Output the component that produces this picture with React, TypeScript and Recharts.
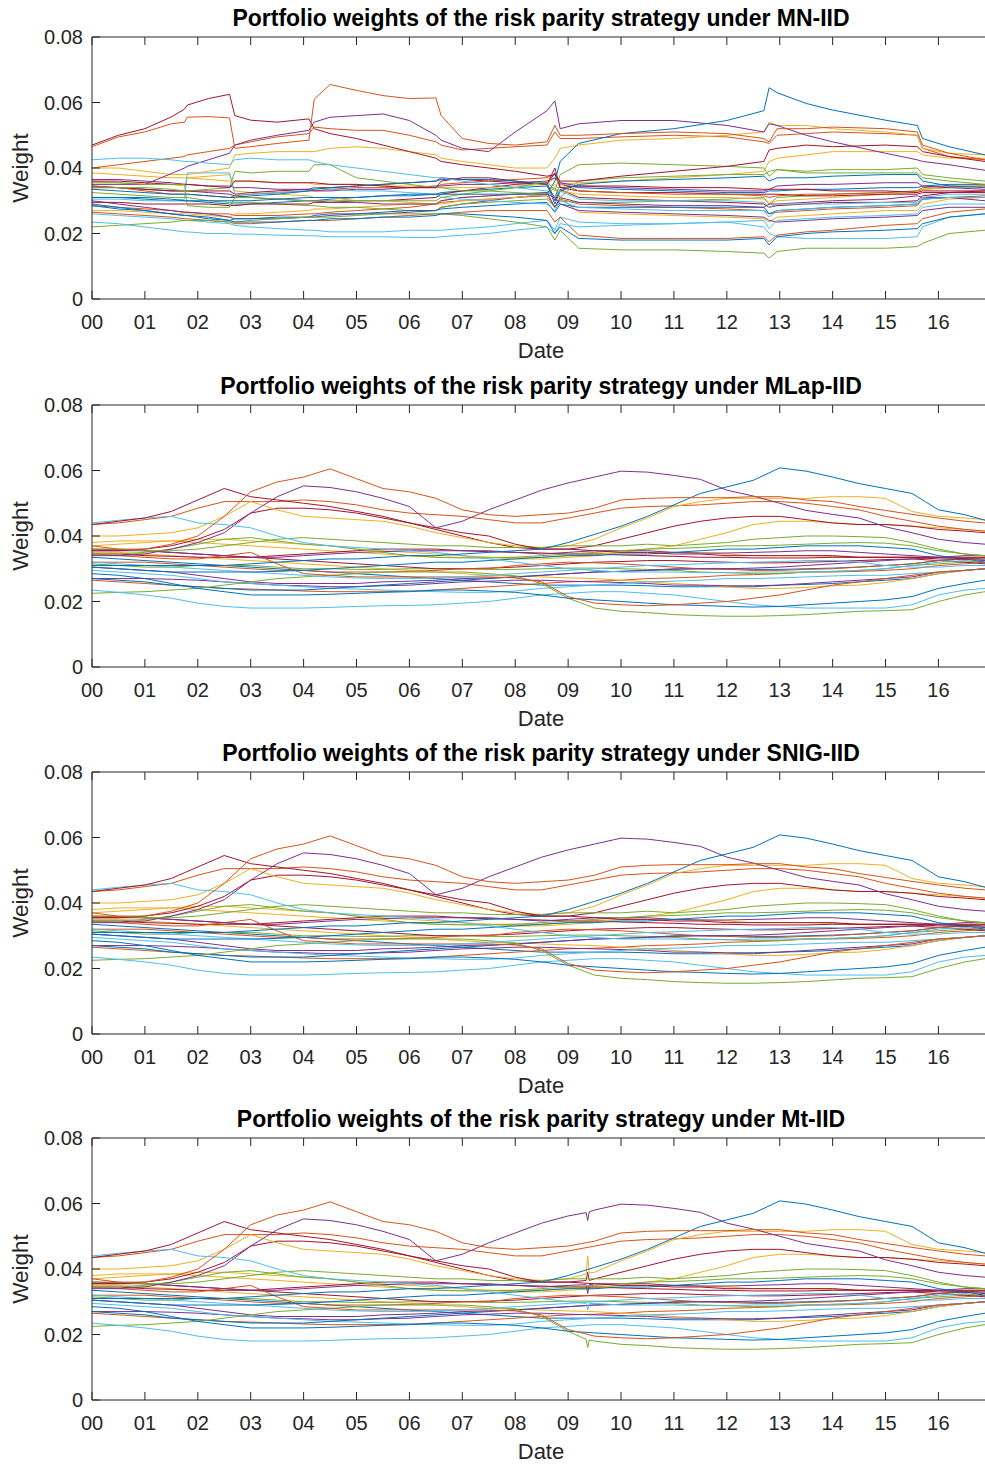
import React from "react";
import { LineChart, Line, XAxis, YAxis, ReferenceLine } from "recharts";

// ---------- axes ----------
const xTicks = [0, 1, 2, 3, 4, 5, 6, 7, 8, 9, 10, 11, 12, 13, 14, 15, 16];
const xTickLabels = ["00", "01", "02", "03", "04", "05", "06", "07", "08", "09", "10", "11", "12", "13", "14", "15", "16"];
const yTicks = [0, 0.02, 0.04, 0.06, 0.08];
const yTickLabels = ["0", "0.02", "0.04", "0.06", "0.08"];
const titles = [
  "Portfolio weights of the risk parity strategy under MN-IID",
  "Portfolio weights of the risk parity strategy under MLap-IID",
  "Portfolio weights of the risk parity strategy under SNIG-IID",
  "Portfolio weights of the risk parity strategy under Mt-IID",
];
const BLUE = "#0072BD", ORANGE = "#D95319", YELLOW = "#EDB120", PURPLE = "#7E2F8E", GREEN = "#77AC30", LBLUE = "#4DBEEE", DRED = "#A2142F";

// ---------- panel 1 (MN-IID): times in years since 2000 ----------
const t1 = [0, 0.5, 1, 1.5, 1.75, 1.8, 2.2, 2.6, 2.7, 3, 3.5, 4.1, 4.2, 4.5, 5, 5.5, 6, 6.5, 6.6, 7, 7.5, 8, 8.6, 8.75, 8.85, 9.2, 10, 11, 12, 12.7, 12.8, 12.95, 13.5, 14, 15, 15.6, 15.7, 16.2, 16.88];
const mnB5 = [.031,.031,.0305,.030,.030,.030,.0295,.029,.029,.029, .0295,.030,.030,.0305,.031,.0315,.0315,.032,.0325,.033, .0335,.034,.0345,.031,.035,.034,.0335,.033,.0325,.0325, .033,.033,.0335,.0335,.034,.034,.0345,.035,.035];
const mnO5 = [.0285,.028,.0275,.027,.0265,.0265,.026,.026,.0255,.0255, .0255,.026,.026,.0265,.027,.0275,.028,.029,.0295,.030, .0305,.031,.0315,.028,.0305,.029,.0285,.028,.0275,.027, .026,.0265,.027,.0275,.028,.0285,.0305,.031,.0315];
const mnY4 = [.027,.027,.0265,.026,.026,.026,.0255,.025,.026,.026, .0265,.027,.0275,.0275,.028,.0285,.029,.029,.030,.031, .0315,.032,.0325,.031,.031,.0265,.026,.0255,.025,.0245, .0235,.025,.0255,.026,.027,.027,.029,.0305,.031];
const mnP3 = [.030,.029,.028,.027,.0265,.0265,.026,.025,.0245,.0245, .0245,.025,.025,.0255,.026,.026,.0265,.027,.028,.029, .030,.031,.032,.031,.029,.027,.0265,.026,.0255,.025, .024,.0235,.024,.0245,.025,.0255,.027,.028,.028];
const mnG4 = [.0325,.032,.0315,.031,.031,.031,.030,.0295,.0295,.0295, .029,.0285,.0285,.028,.028,.0275,.027,.027,.028,.029, .0295,.030,.0305,.028,.030,.0295,.0295,.030,.0305,.031, .029,.031,.0315,.032,.0325,.033,.0335,.034,.0345];
const mnL3 = [.026,.0255,.025,.0245,.024,.024,.0235,.023,.0225,.022, .0215,.021,.021,.0205,.0205,.0205,.021,.021,.021,.0215, .022,.023,.024,.021,.025,.0235,.023,.023,.0235,.024, .0215,.024,.0245,.025,.0255,.026,.028,.029,.029];
const mnD4 = [.0295,.0295,.029,.029,.029,.029,.029,.0285,.0285,.029, .029,.029,.0295,.0295,.030,.030,.0305,.031,.032,.033, .034,.035,.0355,.030,.0335,.031,.0305,.030,.0295,.029, .028,.0285,.029,.0295,.0295,.030,.0315,.0325,.0325];
const mnB4 = [.0285,.0275,.027,.026,.0255,.0255,.025,.024,.0245,.0245, .025,.025,.0255,.026,.026,.0265,.027,.027,.0275,.028, .0285,.029,.0295,.0265,.029,.028,.028,.028,.028,.028, .026,.027,.0275,.028,.0285,.029,.0305,.031,.031];
const mnO2 = [.0265,.026,.0255,.025,.0245,.0245,.024,.0235,.023,.023, .0235,.024,.024,.024,.0245,.025,.0255,.026,.026,.0265, .027,.027,.027,.0235,.025,.0195,.0185,.0185,.0185,.019, .0175,.0195,.0205,.021,.0225,.023,.0245,.0265,.0275];
const mnY3 = [.036,.0355,.035,.035,.0345,.037,.0375,.038,.033,.0325, .032,.0315,.031,.031,.030,.030,.0295,.029,.029,.030, .0305,.031,.032,.035,.033,.032,.0315,.031,.031,.0305, .029,.030,.0305,.031,.032,.0325,.0335,.034,.0345];
const mnP2 = [.034,.034,.0335,.033,.033,.033,.0325,.032,.0315,.031, .0305,.030,.030,.0295,.0295,.029,.029,.029,.030,.031, .0315,.032,.0325,.028,.031,.0295,.029,.0285,.0285,.028, .029,.029,.0295,.030,.0305,.0315,.031,.031,.030];
const mnG1 = [.022,.0225,.023,.0235,.024,.024,.024,.0235,.0235,.024, .0245,.025,.025,.025,.0255,.026,.026,.026,.026,.0255, .0245,.0235,.022,.018,.021,.0155,.015,.015,.0145,.014, .0125,.0145,.0155,.0155,.0155,.016,.017,.020,.021];
const mnL1 = [.0235,.023,.022,.021,.0205,.0205,.020,.020,.0198,.0198, .0195,.0193,.0193,.019,.019,.019,.0188,.0188,.019,.0195, .020,.021,.022,.020,.023,.022,.0225,.023,.0235,.022, .020,.019,.0185,.0185,.0185,.019,.022,.025,.026];
const mnD3 = [.0345,.034,.0335,.033,.033,.033,.033,.033,.032,.0325, .033,.0335,.034,.034,.0345,.035,.0355,.036,.037,.0365, .036,.0355,.035,.0385,.034,.033,.0325,.0325,.032,.032, .032,.032,.0315,.0315,.032,.032,.0325,.0325,.033];
const mnB2 = [.029,.028,.027,.026,.0255,.0255,.0245,.024,.0235,.0235, .0235,.024,.024,.0245,.0245,.025,.025,.0255,.026,.026, .0255,.025,.024,.020,.022,.0185,.018,.018,.018,.0185, .0165,.019,.020,.0205,.021,.0215,.023,.025,.026];
const mnO4 = [.0345,.034,.033,.032,.032,.032,.0315,.031,.0315,.032, .0325,.033,.033,.0335,.034,.034,.034,.034,.035,.0355, .036,.0365,.037,.038,.0355,.033,.0325,.032,.032,.0315, .031,.0315,.032,.032,.0325,.033,.034,.0345,.0345];
const mnY2 = [.0385,.038,.0375,.037,.037,.037,.0365,.036,.036,.036, .0355,.0355,.035,.035,.035,.0345,.0345,.034,.034,.034, .034,.0345,.035,.037,.035,.0355,.036,.037,.038,.039, .042,.043,.044,.045,.045,.045,.044,.043,.043];
const mnP4 = [.0365,.0365,.036,.0355,.035,.035,.0345,.0345,.034,.034, .0335,.0335,.033,.033,.0335,.0335,.034,.0345,.0345,.035, .035,.0355,.036,.037,.0355,.0345,.034,.0335,.033,.033, .0335,.0345,.035,.035,.0355,.0355,.0345,.034,.0335];
const mnG3 = [.034,.034,.034,.0335,.033,.033,.0335,.034,.039,.0385, .039,.039,.041,.041,.037,.036,.035,.034,.034,.033, .033,.0325,.032,.034,.031,.036,.037,.0375,.038,.038, .039,.0395,.0385,.0385,.0385,.0385,.037,.036,.035];
const mnL4 = [.0305,.0305,.030,.030,.0305,.0385,.0385,.0385,.032,.032, .0325,.033,.034,.0335,.033,.033,.0325,.032,.031,.0305, .030,.0295,.029,.027,.030,.028,.0275,.027,.027,.027, .025,.027,.0275,.028,.0285,.029,.0305,.031,.031];
const mnD2 = [.036,.036,.0355,.035,.035,.035,.0345,.034,.036,.036, .0355,.0355,.0355,.035,.035,.0345,.034,.034,.036,.037, .037,.036,.035,.040,.034,.0345,.0345,.034,.034,.0335, .0335,.0335,.0335,.033,.033,.0325,.033,.033,.033];
const mnB3 = [.0335,.033,.0325,.032,.032,.032,.0315,.031,.031,.0315, .032,.033,.0335,.034,.0345,.035,.0355,.036,.0365,.0365, .0365,.036,.035,.029,.033,.035,.036,.0365,.037,.0375, .036,.037,.037,.0375,.038,.038,.036,.0345,.034];
const mnO3 = [.040,.041,.042,.043,.0435,.044,.045,.046,.047,.048, .0495,.0505,.0525,.052,.0515,.0515,.050,.048,.047,.0455, .046,.0465,.047,.051,.049,.049,.0495,.050,.0495,.048, .0475,.050,.0505,.051,.0505,.050,.046,.0435,.0425];
const mnY1 = [.040,.040,.039,.038,.038,.038,.039,.040,.044,.0445, .045,.045,.045,.046,.0465,.046,.045,.044,.043,.042, .041,.040,.040,.043,.046,.047,.0485,.049,.050,.051, .054,.053,.053,.052,.051,.050,.046,.0445,.044];
const mnP1 = [.035,.035,.035,.0383,.040,.0405,.0425,.0445,.047,.0485, .050,.0515,.054,.0555,.056,.0565,.0545,.050,.0485,.046, .045,.051,.0575,.0605,.052,.0535,.0545,.0545,.053,.051, .0535,.053,.050,.048,.0445,.0425,.042,.041,.0393];
const mnG2 = [.0355,.0355,.035,.035,.035,.0285,.028,.028,.031,.031, .0305,.030,.030,.030,.030,.030,.030,.030,.031,.032, .033,.034,.036,.033,.038,.041,.0415,.041,.0405,.040, .0375,.0395,.039,.0395,.0395,.040,.038,.037,.036];
const mnL2 = [.0425,.043,.043,.0425,.042,.042,.0415,.041,.0425,.043, .0425,.0425,.042,.041,.040,.039,.038,.037,.037,.036, .035,.034,.033,.031,.033,.0305,.030,.030,.030,.0295, .028,.029,.029,.029,.0295,.0295,.031,.032,.032];
const mnD1 = [.047,.050,.052,.0556,.058,.0592,.0612,.0625,.056,.0546, .054,.055,.052,.0505,.049,.047,.045,.043,.042,.041, .040,.039,.0375,.038,.036,.036,.0375,.039,.0405,.042, .0455,.046,.047,.0465,.047,.0465,.045,.0435,.042];
const mnB1 = [.031,.031,.031,.0305,.030,.030,.030,.030,.030,.030, .0305,.031,.031,.031,.031,.0315,.032,.032,.032,.032, .032,.032,.032,.036,.042,.0475,.0505,.052,.0545,.0575, .0645,.063,.0597,.0577,.0546,.053,.049,.0465,.044];
const mnO1 = [.0465,.0495,.051,.0535,.054,.0555,.0557,.0553,.046,.0465, .0475,.0485,.061,.0655,.0637,.0621,.0612,.0614,.056,.049, .0475,.047,.048,.053,.050,.050,.0505,.051,.0505,.049, .048,.052,.052,.0525,.052,.051,.047,.0445,.0425];

// ---------- panels 2-4 (smooth models): half-year grid ----------
const t2 = [0, 0.5, 1, 1.5, 2, 2.5, 3, 3.5, 4, 4.5, 5, 5.5, 6, 6.5, 7, 7.5, 8, 8.5, 9, 9.5, 10, 10.5, 11, 11.5, 12, 12.5, 13, 13.5, 14, 14.5, 15, 15.5, 16, 16.5, 16.88];
const smBb5 = [.0335,.033,.0325,.032,.0315,.031,.0305,.030,.0295,.029, .0285,.028,.0275,.027,.0265,.026,.0255,.025,.025,.025, .025,.0248,.0245,.0245,.0245,.0245,.025,.0252,.0255,.026, .0265,.027,.0285,.0295,.030];
const smOb5 = [.0265,.026,.0255,.025,.0245,.024,.0238,.0235,.0232,.023, .023,.023,.0232,.0235,.024,.0245,.025,.0255,.026,.0262, .0265,.027,.0272,.0275,.028,.0282,.0285,.029,.029,.0292, .0295,.030,.031,.0315,.032];
const smYb3 = [.035,.035,.0345,.034,.0335,.033,.0325,.032,.0315,.031, .0305,.030,.0295,.029,.0285,.028,.0278,.0275,.0272,.027, .0265,.026,.0255,.025,.0245,.024,.024,.0243,.0248,.025, .0258,.027,.0285,.0295,.030];
const smPb4 = [.027,.027,.027,.0268,.0265,.026,.0255,.025,.0248,.0245, .0245,.0248,.025,.0255,.026,.0262,.0265,.0265,.0262,.026, .0258,.0255,.025,.025,.0248,.0248,.025,.0255,.026,.0265, .027,.0275,.029,.0295,.030];
const smGb4 = [.0315,.031,.0305,.0305,.031,.031,.031,.0305,.030,.030, .0298,.0298,.030,.030,.030,.0298,.0298,.030,.0302,.0302, .030,.0298,.0295,.029,.0288,.0285,.0285,.029,.0292,.0295, .030,.031,.0315,.032,.0325];
const smLb3 = [.0295,.029,.0285,.028,.027,.026,.0255,.025,.0245,.024, .0238,.0235,.0232,.023,.0228,.0228,.0232,.024,.0245,.025, .0255,.026,.0262,.0265,.027,.027,.0272,.0275,.0278,.028, .028,.0285,.029,.0295,.030];
const smDb4 = [.036,.0358,.0355,.035,.0345,.034,.0335,.033,.0325,.032, .0315,.031,.0305,.030,.030,.0302,.0305,.031,.0315,.032, .0322,.0325,.0325,.0322,.032,.0318,.0318,.032,.0322,.0325, .0328,.033,.0325,.032,.0315];
const smBb4 = [.027,.0265,.026,.025,.0245,.024,.0235,.0235,.0235,.024, .0245,.025,.0255,.026,.0265,.027,.0275,.028,.0285,.029, .0292,.0295,.030,.030,.030,.0298,.0298,.030,.0302,.0305, .031,.0315,.0325,.033,.0335];
const smOb4 = [.032,.032,.032,.0315,.031,.0305,.030,.0295,.0295,.029, .029,.029,.0292,.0295,.030,.030,.031,.0315,.032,.0318, .0315,.031,.0305,.030,.0298,.0295,.0295,.0298,.030,.0305, .031,.0315,.0325,.033,.0335];
const smYb4 = [.038,.0385,.0385,.0385,.038,.0375,.037,.0365,.036,.0355, .035,.0345,.034,.0335,.0335,.0335,.0335,.0335,.034,.0345, .035,.035,.035,.0348,.0345,.034,.034,.034,.0338,.0335, .0335,.0335,.0335,.0335,.0335];
const smPb2 = [.0305,.030,.0295,.029,.028,.027,.026,.0255,.0255,.0255, .0255,.026,.0262,.0265,.027,.0272,.0275,.028,.0285,.029, .0292,.0295,.0298,.030,.030,.0302,.0305,.031,.0315,.032, .0325,.033,.0335,.034,.034];
const smJ = [.0225,.0228,.023,.0235,.024,.025,.026,.027,.0275,.028, .0285,.029,.029,.029,.029,.0285,.0278,.0255,.021,.018, .017,.0166,.016,.0157,.0155,.0155,.0157,.016,.0165,.017, .0172,.0175,.020,.022,.023];
const smM = [.0235,.0228,.022,.021,.0195,.0185,.018,.018,.018,.0182, .0185,.0187,.0188,.019,.0195,.020,.021,.022,.0225,.023, .023,.0225,.022,.021,.020,.019,.0185,.018,.018,.018, .018,.019,.022,.0235,.024];
const smDb3 = [.0345,.0345,.034,.0338,.0335,.0335,.0335,.034,.0345,.035, .0355,.036,.036,.036,.0355,.0352,.035,.0348,.0345,.0345, .0342,.034,.0338,.0335,.0335,.0333,.0333,.0333,.0335,.0335, .0335,.0335,.0335,.0335,.0335];
const smL = [.0285,.028,.027,.0255,.024,.023,.022,.022,.022,.0222, .0225,.0228,.023,.0235,.0235,.0232,.0228,.022,.021,.0205, .020,.0195,.019,.0188,.0185,.0183,.0185,.019,.0195,.020, .0205,.0215,.024,.0255,.0265];
const smK = [.0345,.034,.0335,.033,.033,.034,.035,.0315,.0285,.028, .0275,.0275,.0275,.0275,.0275,.0275,.0272,.026,.0215,.0195, .019,.0187,.019,.0195,.020,.021,.022,.0235,.025,.026, .027,.028,.029,.0295,.030];
const smH = [.037,.0375,.038,.0385,.039,.039,.0385,.038,.0375,.037, .036,.0355,.035,.0345,.034,.0335,.033,.033,.0335,.034, .035,.036,.037,.039,.041,.0435,.0445,.0445,.044,.0435, .0435,.043,.0425,.042,.0415];
const smPb3 = [.0355,.0355,.0355,.035,.0345,.034,.0335,.0335,.034,.0345, .035,.0352,.0355,.0355,.0355,.0355,.035,.0345,.035,.0355, .0355,.0355,.035,.0348,.0348,.035,.0352,.0355,.0355,.035, .0345,.034,.0335,.033,.0325];
const smGb3 = [.0345,.0345,.035,.036,.0375,.039,.0395,.0385,.0375,.037, .036,.035,.034,.0335,.0333,.0333,.0335,.034,.0345,.035, .0355,.036,.0362,.0365,.037,.037,.0372,.0375,.0378,.038, .0378,.037,.0355,.0345,.034];
const smLb4 = [.032,.0315,.031,.0305,.030,.0295,.029,.0285,.028,.0275, .0272,.027,.027,.0272,.0275,.028,.0285,.029,.0295,.030, .0305,.031,.0312,.0315,.0318,.032,.0322,.0325,.0325,.032, .031,.0305,.0305,.031,.031];
const smF = [.0355,.0355,.036,.037,.039,.042,.047,.0485,.0485,.048, .047,.0455,.044,.042,.040,.038,.0365,.036,.036,.037, .039,.041,.043,.0445,.0455,.046,.046,.045,.044,.0435, .0435,.043,.042,.0415,.041];
const smO6 = [.0305,.030,.0295,.029,.029,.029,.029,.0292,.0295,.030, .0305,.031,.0315,.032,.032,.0325,.033,.0335,.034,.034, .0345,.0345,.035,.0355,.036,.036,.0365,.037,.037,.037, .0365,.036,.034,.033,.032];
const smD = [.0435,.044,.045,.046,.0485,.0505,.0505,.0505,.051,.0505, .0495,.048,.047,.0465,.046,.045,.044,.044,.0455,.047, .0485,.049,.0492,.0495,.050,.0505,.0505,.050,.049,.048, .046,.0445,.043,.042,.0415];
const smG = [.040,.040,.0405,.041,.0425,.046,.0505,.048,.046,.0455, .045,.0445,.043,.041,.0395,.038,.037,.0365,.037,.039, .0425,.0455,.049,.0505,.0515,.0515,.0515,.0515,.052,.052, .0515,.0475,.046,.0455,.045];
const smB = [.034,.034,.0345,.036,.038,.041,.047,.052,.0553,.0548, .0535,.0515,.049,.0425,.0445,.048,.051,.054,.0562,.058, .0598,.0595,.0585,.0573,.054,.0522,.050,.0478,.0466,.0455, .0428,.041,.039,.038,.0375];
const smI = [.036,.036,.0355,.0355,.036,.037,.038,.039,.0395,.039, .0385,.038,.0375,.037,.037,.0365,.0365,.0365,.037,.037, .037,.0375,.037,.0375,.038,.039,.0395,.040,.040,.0398, .0395,.038,.036,.0345,.034];
const smN = [.044,.0448,.0455,.046,.044,.0435,.0425,.040,.038,.037, .0365,.036,.0355,.035,.034,.033,.032,.031,.030,.0295, .029,.029,.029,.0288,.0288,.029,.029,.029,.0292,.0295, .030,.031,.032,.0325,.033];
const smE = [.0435,.0445,.0455,.0475,.051,.0545,.052,.051,.050,.049, .0475,.046,.044,.0425,.041,.040,.0375,.036,.036,.0355, .035,.035,.0345,.0345,.034,.034,.034,.034,.034,.0335, .0335,.0335,.033,.033,.033];
const smA = [.031,.031,.031,.031,.031,.031,.0315,.032,.0325,.033, .033,.0335,.034,.034,.0345,.035,.0355,.036,.038,.0405, .043,.046,.0495,.053,.055,.057,.0608,.0598,.058,.056, .0545,.053,.048,.0465,.0448];
const smC = [.037,.036,.036,.0375,.040,.046,.0535,.0565,.058,.0605, .0575,.0545,.0535,.0515,.048,.0465,.046,.0465,.047,.0485, .051,.0515,.0517,.0517,.0517,.052,.052,.051,.0505,.049, .0478,.0466,.0455,.0445,.044];

// Mt-IID short-lived spikes around mid 2009
const mtSpikeTimes = [9.34, 9.37, 9.40];
const mtSpikeB = [.0572, .0548, .0575];
const mtSpikeG = [.0385, .044, .0388];
const mtSpikeF = [.0365, .039, .0365];
const mtSpikeJ = [.0185, .016, .0183];
const mtSpikePb3 = [.0352, .0325, .0352];
const mtSpikeN = [.0295, .0275, .0295];

type S = { key: string; color: string; values: number[] };

const series1: S[] = [
  { key: "a0", color: BLUE, values: mnB5 }, { key: "a1", color: ORANGE, values: mnO5 },
  { key: "a2", color: YELLOW, values: mnY4 }, { key: "a3", color: PURPLE, values: mnP3 },
  { key: "a4", color: GREEN, values: mnG4 }, { key: "a5", color: LBLUE, values: mnL3 },
  { key: "a6", color: DRED, values: mnD4 }, { key: "a7", color: BLUE, values: mnB4 },
  { key: "a8", color: ORANGE, values: mnO2 }, { key: "a9", color: YELLOW, values: mnY3 },
  { key: "a10", color: PURPLE, values: mnP2 }, { key: "a11", color: GREEN, values: mnG1 },
  { key: "a12", color: LBLUE, values: mnL1 }, { key: "a13", color: DRED, values: mnD3 },
  { key: "a14", color: BLUE, values: mnB2 }, { key: "a15", color: ORANGE, values: mnO4 },
  { key: "a16", color: YELLOW, values: mnY2 }, { key: "a17", color: PURPLE, values: mnP4 },
  { key: "a18", color: GREEN, values: mnG3 }, { key: "a19", color: LBLUE, values: mnL4 },
  { key: "a20", color: DRED, values: mnD2 }, { key: "a21", color: BLUE, values: mnB3 },
  { key: "a22", color: ORANGE, values: mnO3 }, { key: "a23", color: YELLOW, values: mnY1 },
  { key: "a24", color: PURPLE, values: mnP1 }, { key: "a25", color: GREEN, values: mnG2 },
  { key: "a26", color: LBLUE, values: mnL2 }, { key: "a27", color: DRED, values: mnD1 },
  { key: "a28", color: BLUE, values: mnB1 }, { key: "a29", color: ORANGE, values: mnO1 },
];

const series2: S[] = [
  { key: "Bb5", color: BLUE, values: smBb5 }, { key: "Ob5", color: ORANGE, values: smOb5 },
  { key: "Yb3", color: YELLOW, values: smYb3 }, { key: "Pb4", color: PURPLE, values: smPb4 },
  { key: "Gb4", color: GREEN, values: smGb4 }, { key: "Lb3", color: LBLUE, values: smLb3 },
  { key: "Db4", color: DRED, values: smDb4 }, { key: "Bb4", color: BLUE, values: smBb4 },
  { key: "Ob4", color: ORANGE, values: smOb4 }, { key: "Yb4", color: YELLOW, values: smYb4 },
  { key: "Pb2", color: PURPLE, values: smPb2 }, { key: "J", color: GREEN, values: smJ },
  { key: "M", color: LBLUE, values: smM }, { key: "Db3", color: DRED, values: smDb3 },
  { key: "L", color: BLUE, values: smL }, { key: "K", color: ORANGE, values: smK },
  { key: "H", color: YELLOW, values: smH }, { key: "Pb3", color: PURPLE, values: smPb3 },
  { key: "Gb3", color: GREEN, values: smGb3 }, { key: "Lb4", color: LBLUE, values: smLb4 },
  { key: "F", color: DRED, values: smF }, { key: "O6", color: BLUE, values: smO6 },
  { key: "D", color: ORANGE, values: smD }, { key: "G", color: YELLOW, values: smG },
  { key: "B", color: PURPLE, values: smB }, { key: "I", color: GREEN, values: smI },
  { key: "N", color: LBLUE, values: smN }, { key: "E", color: DRED, values: smE },
  { key: "A", color: BLUE, values: smA }, { key: "C", color: ORANGE, values: smC },
];

const mtSpikes: Record<string, number[]> = { B: mtSpikeB, G: mtSpikeG, F: mtSpikeF, J: mtSpikeJ, Pb3: mtSpikePb3, N: mtSpikeN };

function buildRows(times: number[], series: S[]) {
  return times.map((t, i) => {
    const r: any = { t };
    series.forEach((s) => { r[s.key] = s.values[i]; });
    return r;
  });
}

const rows1 = buildRows(t1, series1);
const rows2 = buildRows(t2, series2);
const rows4 = [
  ...rows2,
  ...mtSpikeTimes.map((t, i) => {
    const r: any = { t };
    Object.keys(mtSpikes).forEach((k) => { r[k] = mtSpikes[k][i]; });
    return r;
  }),
].sort((a, b) => a.t - b.t);

const FONT = "'Liberation Sans', Arial, Helvetica, sans-serif";
const AX = "#262626";
const PLOT_H = 262;
const TOP = 37;

const XTick = (props: any) => {
  const { x, y, payload } = props;
  const idx = xTicks.indexOf(payload.value);
  return (
    <g>
      <line x1={x} x2={x} y1={y} y2={y - 8} stroke={AX} strokeWidth={1} />
      <line x1={x} x2={x} y1={y - PLOT_H} y2={y - PLOT_H + 8} stroke={AX} strokeWidth={1} />
      <text x={x} y={y + 30} textAnchor="middle" fontSize={20} fill={AX} fontFamily={FONT}>
        {xTickLabels[idx]}
      </text>
    </g>
  );
};

const YTick = (props: any) => {
  const { x, y, payload } = props;
  const idx = yTicks.findIndex((v) => Math.abs(v - payload.value) < 1e-9);
  return (
    <g>
      <line x1={x} x2={x + 8} y1={y} y2={y} stroke={AX} strokeWidth={1} />
      <text x={x - 9} y={y + 7} textAnchor="end" fontSize={20} fill={AX} fontFamily={FONT}>
        {yTickLabels[idx]}
      </text>
    </g>
  );
};

function Panel({ top, title, rows, series }: { top: number; title: string; rows: any[]; series: S[] }) {
  return (
    <div style={{ position: "absolute", left: 0, top, width: 985, height: 362 }}>
      <div style={{ position: "absolute", left: 0, width: 1082, top: 5, textAlign: "center", fontFamily: FONT, fontWeight: "bold", fontSize: 23, color: "#000", lineHeight: "26px", whiteSpace: "nowrap" }}>
        {title}
      </div>
      <LineChart width={985} height={362} data={rows} margin={{ top: TOP, right: 0, bottom: 0, left: 0 }}>
        <XAxis dataKey="t" type="number" domain={[0, 16.88]} ticks={xTicks} interval={0} allowDataOverflow
          height={63} tickSize={0} tickMargin={0} tickLine={false} axisLine={{ stroke: AX }} tick={<XTick />} />
        <YAxis type="number" domain={[0, 0.08]} ticks={yTicks} interval={0} allowDataOverflow
          width={92} tickSize={0} tickMargin={0} tickLine={false} axisLine={{ stroke: AX }} tick={<YTick />} />
        <ReferenceLine y={0.08} stroke={AX} strokeWidth={1} />
        {series.map((s) => (
          <Line key={s.key} dataKey={s.key} stroke={s.color} strokeWidth={1} dot={false} activeDot={false}
            type="linear" connectNulls isAnimationActive={false} />
        ))}
      </LineChart>
      <div style={{ position: "absolute", left: 0, width: 1082, top: 340, textAlign: "center", fontFamily: FONT, fontSize: 22, color: AX, lineHeight: "22px" }}>
        Date
      </div>
      <div style={{ position: "absolute", left: 21, top: TOP + 131, width: 0, height: 0 }}>
        <div style={{ position: "absolute", transform: "translate(-50%, -50%) rotate(-90deg)", fontFamily: FONT, fontSize: 22.5, color: AX, whiteSpace: "nowrap", lineHeight: "26px" }}>
          Weight
        </div>
      </div>
    </div>
  );
}

export default function App() {
  return (
    <div style={{ position: "absolute", left: 0, top: 0, width: 985, height: 1466, background: "#fff", overflow: "hidden" }}>
      <Panel top={0} title={titles[0]} rows={rows1} series={series1} />
      <Panel top={368} title={titles[1]} rows={rows2} series={series2} />
      <Panel top={735} title={titles[2]} rows={rows2} series={series2} />
      <Panel top={1101} title={titles[3]} rows={rows4} series={series2} />
    </div>
  );
}
